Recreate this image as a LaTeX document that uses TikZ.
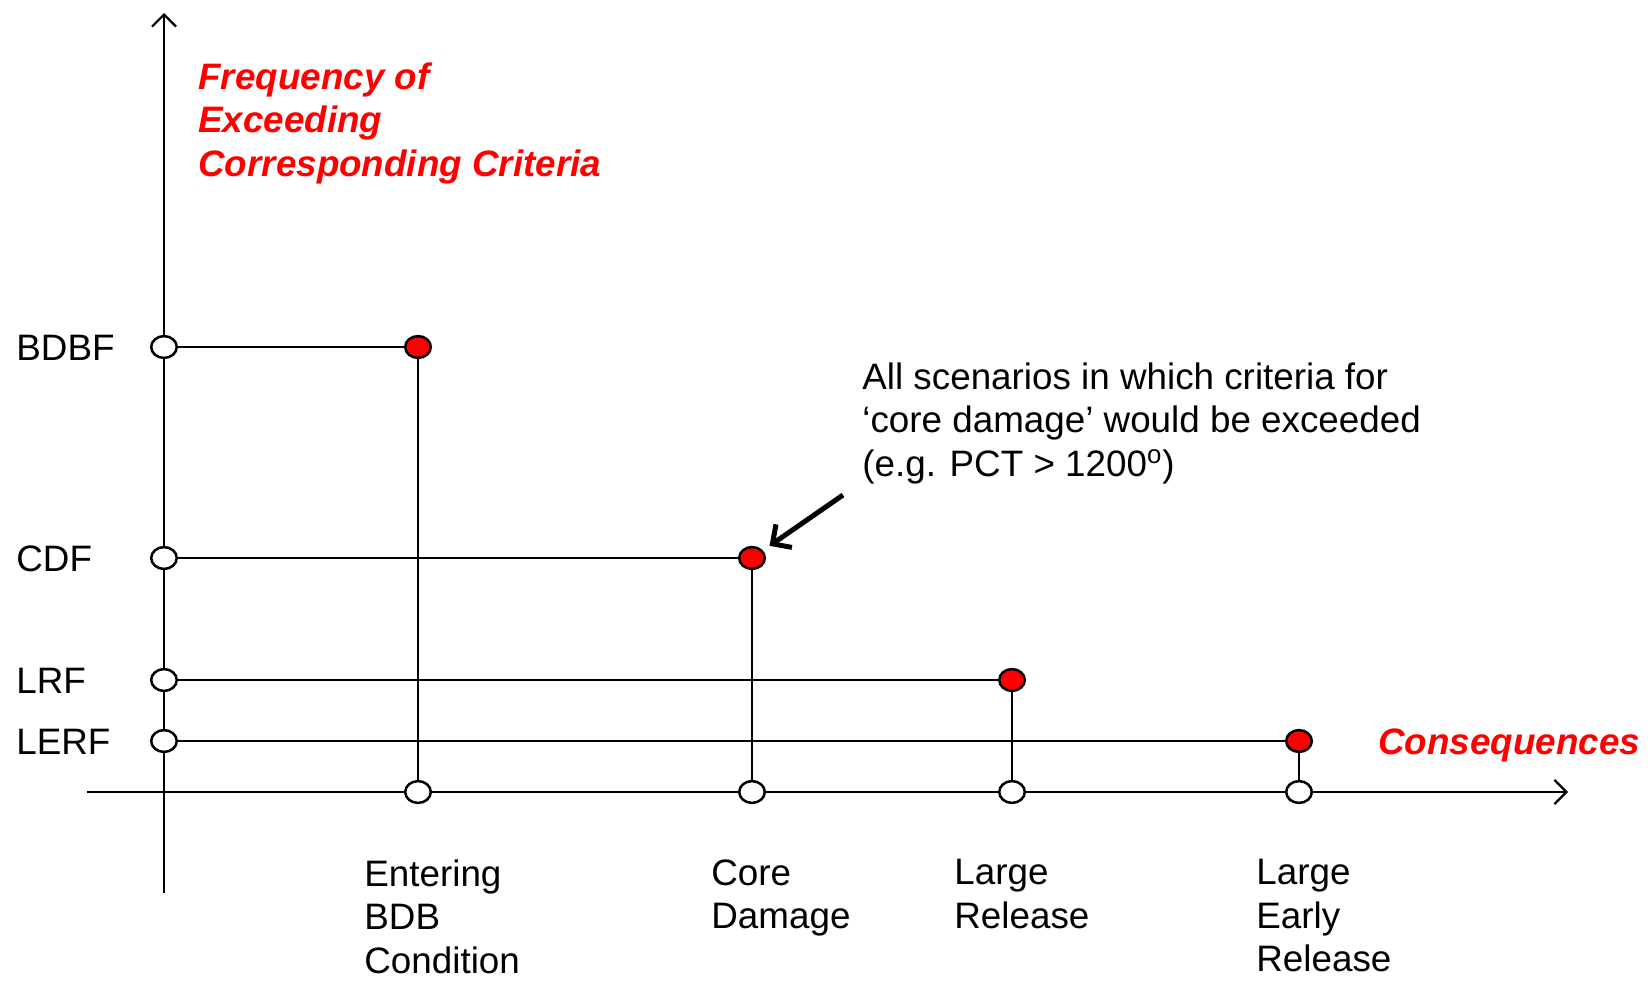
\documentclass[tikz,border=0pt]{standalone}
\usepackage{fontspec}
\setmainfont{Liberation Sans}
\usetikzlibrary{arrows.meta, shapes.geometric}

\begin{document}
\begin{tikzpicture}[x=0.5pt, y=-0.5pt,
    font=\fontsize{18.4}{21.8}\selectfont,
    opendot/.style={ellipse, draw, fill=white, line width=1.25pt, minimum width=12.8pt, minimum height=10.9pt, inner sep=0pt},
    reddot/.style={opendot, fill=red},
    axis/.style={line width=1.1pt, -{Straight Barb[length=6pt, width=12pt]}},
    link/.style={line width=1.3pt},
    callout/.style={line width=2.5pt, -{Straight Barb[length=7pt, width=14pt]}, shorten >=4pt},
    lbl/.style={anchor=north west, inner sep=0pt, align=left},
    redlbl/.style={lbl, text=red, font=\fontsize{18.4}{21.8}\selectfont\bfseries\itshape}]
    \useasboundingbox (0,0) rectangle (1652,980);

    % Define the ends of the axes
    \coordinate (ybot) at (164,893);
    \coordinate (ytop) at (164,13);
    \coordinate (xleft) at (87,792);
    \coordinate (xright) at (1568,792);

    % Draw the axes
    \draw[axis] (ybot) -- (ytop);
    \draw[axis] (xleft) -- (xright);

    % Frequencies on the vertical axis
    \node[opendot] (yBDBF) at (164,347) {};
    \node[opendot] (yCDF) at (164,558) {};
    \node[opendot] (yLRF) at (164,680) {};
    \node[opendot] (yLERF) at (164,741) {};

    % Criteria reached
    \node[reddot] (rBDBF) at (418,347) {};
    \node[reddot] (rCDF) at (752,558) {};
    \node[reddot] (rLRF) at (1012,680) {};
    \node[reddot] (rLERF) at (1299,741) {};

    % Consequences on the horizontal axis
    \node[opendot] (xBDB) at (418,792) {};
    \node[opendot] (xCD) at (752,792) {};
    \node[opendot] (xLR) at (1012,792) {};
    \node[opendot] (xLER) at (1299,792) {};

    % Draw the steps
    \draw[link] (yBDBF) -- (rBDBF);
    \draw[link] (rBDBF) -- (xBDB);
    \draw[link] (yCDF) -- (rCDF);
    \draw[link] (rCDF) -- (xCD);
    \draw[link] (yLRF) -- (rLRF);
    \draw[link] (rLRF) -- (xLR);
    \draw[link] (yLERF) -- (rLERF);
    \draw[link] (rLERF) -- (xLER);

    % Labels of the frequencies
    \node[anchor=base west, inner sep=0pt] (lBDBF) at (16,360) {BDBF};
    \node[anchor=base west, inner sep=0pt] (lCDF) at (16,571) {CDF};
    \node[anchor=base west, inner sep=0pt] (lLRF) at (16,693) {LRF};
    \node[anchor=base west, inner sep=0pt] (lLERF) at (16,754) {LERF};

    % Axis titles
    \node[redlbl] (freq) at (198,62) {Frequency of\\Exceeding\\Corresponding Criteria};
    \node[anchor=base west, inner sep=0pt, text=red, font=\fontsize{18.4}{21.8}\selectfont\bfseries\itshape] (cons) at (1378,754) {Consequences};

    % Labels of the consequences
    \node[lbl] (lBDB) at (364,859) {Entering\\BDB\\Condition};
    \node[lbl] (lCD) at (711,859) {Core\\Damage};
    \node[lbl] (lLR) at (954,859) {Large\\Release};
    \node[lbl] (lLER) at (1256,859) {Large\\Early\\Release};

    % Note on core damage
    \node[lbl] (note) at (862,362) {All scenarios in which criteria for\\`core damage' would be exceeded\\(e.g. PCT > 1200\textsuperscript{o})};
    \coordinate (ctail) at (843,495);
    \draw[callout] (ctail) -- (rCDF);

\end{tikzpicture}
\end{document}
